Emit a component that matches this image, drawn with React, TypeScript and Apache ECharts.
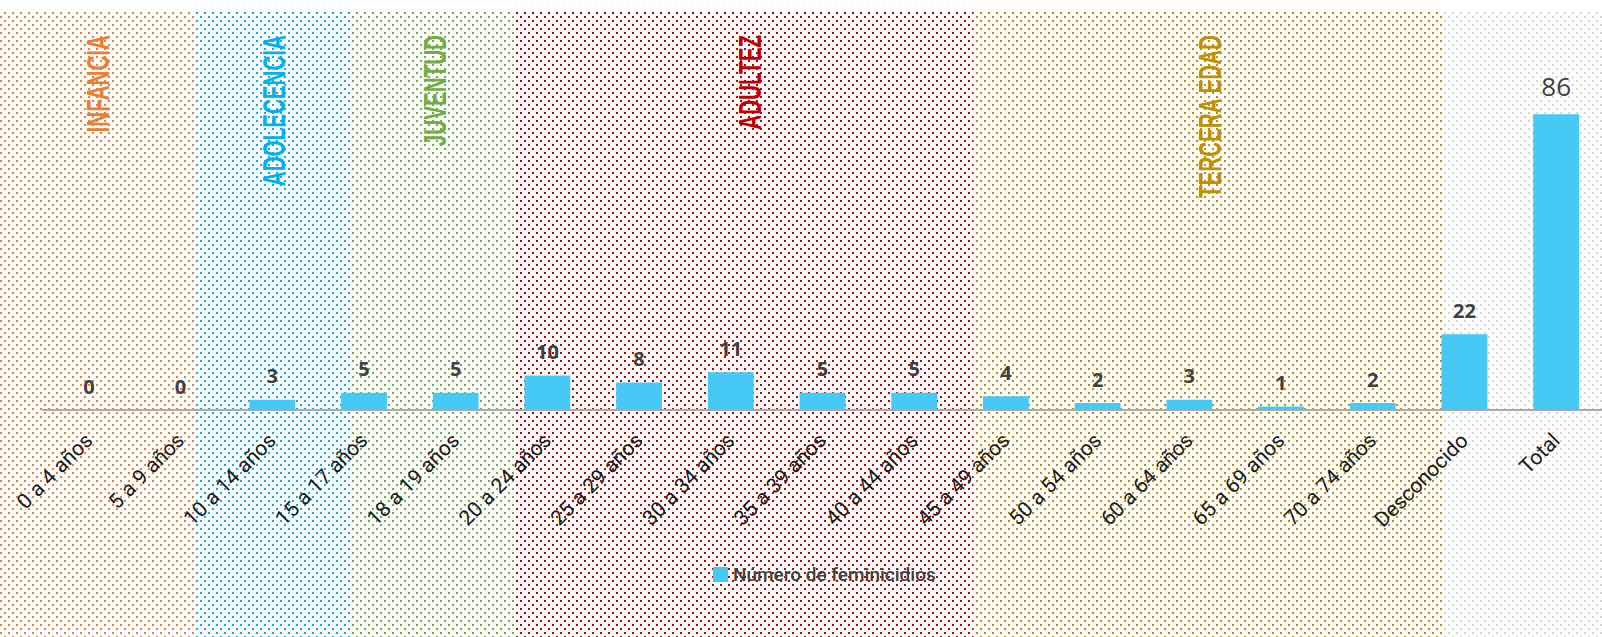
import React, { useEffect, useRef } from "react";
import * as echarts from "echarts";

const categories = [
  "0 a 4 años", "5 a 9 años", "10 a 14 años", "15 a 17 años", "18 a 19 años",
  "20 a 24 años", "25 a 29 años", "30 a 34 años", "35 a 39 años", "40 a 44 años",
  "45 a 49 años", "50 a 54 años", "60 a 64 años", "65 a 69 años", "70 a 74 años",
  "Desconocido", "Total",
];
const values = [0, 0, 3, 5, 5, 10, 8, 11, 5, 5, 4, 2, 3, 1, 2, 22, 86];
const seriesName = "Número de feminicidios";

// background age-group bands
const groupNames = ["INFANCIA", "ADOLECENCIA", "JUVENTUD", "ADULTEZ", "TERCERA EDAD", ""];
const groupColors = ["#ED7D31", "#00B0F0", "#70AD47", "#C00000", "#BF9000", "#D6D6D6"];
const bandEdges = [0, 194, 352, 516, 973, 1443, 1602];
const labelCenters = [98, 274, 435, 750, 1210, 0];

function dotPattern(color: string) {
  const svg =
    `<svg xmlns="http://www.w3.org/2000/svg" width="8" height="8">` +
    `<rect x="0" y="0" width="2" height="2" fill="${color}"/>` +
    `<rect x="4" y="4" width="2" height="2" fill="${color}"/>` +
    `</svg>`;
  return {
    image: "data:image/svg+xml;charset=utf-8," + encodeURIComponent(svg),
    repeat: "repeat",
    imageWidth: 8,
    imageHeight: 8,
  };
}

export default function App() {
  const ref = useRef<HTMLDivElement>(null);
  useEffect(() => {
    document.body.style.margin = "0";
    if (!ref.current) return;
    const chart = echarts.init(ref.current, undefined, { renderer: "svg" });

    const graphics: any[] = [];
    for (let i = 0; i < groupColors.length; i++) {
      graphics.push({
        type: "rect",
        z: -10,
        silent: true,
        shape: { x: bandEdges[i], y: 12, width: bandEdges[i + 1] - bandEdges[i], height: 625 },
        style: { fill: dotPattern(groupColors[i]) as any },
      });
    }
    for (let i = 0; i < groupNames.length; i++) {
      if (!groupNames[i]) continue;
      graphics.push({
        type: "text",
        z: -5,
        silent: true,
        x: labelCenters[i],
        y: 35,
        rotation: Math.PI / 2,
        scaleX: 0.645,
        style: {
          text: groupNames[i],
          fill: groupColors[i],
          font: 'bold 32px "Liberation Sans", Arial, sans-serif',
          align: "right",
          verticalAlign: "middle",
        },
      });
    }

    chart.setOption({
      animation: false,
      backgroundColor: "#ffffff",
      graphic: graphics,
      legend: {
        left: 708,
        top: 560,
        itemWidth: 15,
        itemHeight: 15,
        itemGap: 8,
        icon: "rect",
        textStyle: {
          color: "#404040",
          fontSize: 19,
          fontWeight: 500,
          fontFamily: "Roboto, sans-serif",
        },
        data: [seriesName],
      },
      grid: { left: 43, top: 66, width: 1561, height: 344 },
      xAxis: {
        type: "category",
        data: categories,
        axisLine: { lineStyle: { color: "#ABABAB", width: 2 } },
        axisTick: { length: 9, lineStyle: { color: "#ABABAB", width: 1.5 } },
        axisLabel: {
          rotate: 45,
          margin: 27,
          interval: 0,
          color: "#1a1a1a",
          fontSize: 21,
          fontFamily: "Roboto, sans-serif",
        },
      },
      yAxis: {
        type: "value",
        min: 0,
        max: 100,
        show: false,
        splitLine: { show: false },
      },
      series: [
        {
          name: seriesName,
          type: "bar",
          data: values.map((v, i) =>
            i === values.length - 1
              ? {
                  value: v,
                  label: { fontSize: 26, fontWeight: "normal", distance: 15 },
                }
              : v
          ),
          barWidth: "50%",
          itemStyle: { color: "#47C9F5" },
          label: {
            show: true,
            position: "top",
            distance: 14,
            color: "#404040",
            fontSize: 20,
            fontWeight: "bold",
            fontFamily: '"Open Sans", "DejaVu Sans", sans-serif',
          },
        },
      ],
    });
    return () => chart.dispose();
  }, []);
  return <div ref={ref} style={{ width: 1602, height: 637 }} />;
}
